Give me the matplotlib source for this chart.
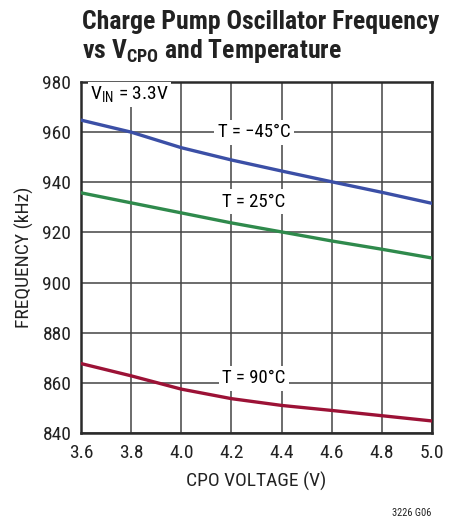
import matplotlib
matplotlib.use('Agg')
import matplotlib.pyplot as plt

plt.rcParams['font.family'] = ['Roboto Condensed', 'DejaVu Sans']
plt.rcParams['mathtext.fontset'] = 'custom'
plt.rcParams['mathtext.rm'] = 'Roboto Condensed'
plt.rcParams['mathtext.bf'] = 'Roboto Condensed:bold'

# CPO voltage (V)
vcpo = [3.6, 3.8, 4.0, 4.2, 4.4, 4.6, 4.8, 5.0]
# frequency (kHz) per temperature
f_m45 = [964.8, 960.0, 953.8, 948.9, 944.5, 940.2, 936.0, 931.6]
f_25 = [935.8, 931.8, 927.8, 923.8, 920.2, 916.6, 913.3, 909.8]
f_90 = [867.7, 862.8, 857.5, 853.7, 851.0, 849.0, 846.9, 844.8]

xticks = [3.6, 3.8, 4.0, 4.2, 4.4, 4.6, 4.8, 5.0]
yticks = [840, 860, 880, 900, 920, 940, 960, 980]

fig = plt.figure(figsize=(4.63, 5.19), dpi=100)
ax = fig.add_axes([0.175, 0.1657, 0.758, 0.6763])

ax.plot(vcpo, f_m45, color='#3b4fa6', lw=2.4, zorder=3)
ax.plot(vcpo, f_25, color='#2f8a4c', lw=2.4, zorder=3)
ax.plot(vcpo, f_90, color='#9c1236', lw=2.4, zorder=3)

ax.set_xlim(3.6, 5.0)
ax.set_ylim(840, 980)
ax.set_xticks(xticks)
ax.set_yticks(yticks)
ax.set_xticklabels(['%.1f' % v for v in xticks])
ax.grid(True, color='#444444', lw=1.1)
ax.tick_params(length=0, labelsize=14, colors='#222222')
ax.tick_params(axis='x', pad=8)
ax.tick_params(axis='y', pad=7)
for s in ax.spines.values():
    s.set_linewidth(1.8)
    s.set_color('#2a2a2a')

ax.set_xlabel('CPO VOLTAGE (V)', fontsize=14, labelpad=7, color='#222222')
ax.set_ylabel('FREQUENCY (kHz)', fontsize=14, labelpad=6, color='#222222')

box = dict(facecolor='white', edgecolor='none', pad=2.5)
ax.text(3.635, 975.0, r'V$_{\mathregular{IN}}$ = 3.3V', fontsize=14, va='center', ha='left',
        bbox=dict(facecolor='white', edgecolor='none', pad=1.5), zorder=4)
ax.text(4.29, 960, 'T = \u221245\u00b0C', fontsize=13.5, va='center', ha='center', bbox=box, zorder=4)
ax.text(4.29, 932.2, 'T = 25\u00b0C', fontsize=13.5, va='center', ha='center', bbox=box, zorder=4)
ax.text(4.29, 861.8, 'T = 90\u00b0C', fontsize=13.5, va='center', ha='center', bbox=box, zorder=4)

fig.text(0.177, 0.944, 'Charge Pump Oscillator Frequency', fontsize=18.5, fontweight='bold', ha='left', va='baseline', color='#222222')
fig.text(0.177, 0.888, r'vs V$_{\mathbf{CPO}}$ and Temperature', fontsize=18.5, fontweight='bold', ha='left', va='baseline', color='#222222')
fig.text(0.931, 0.0067, '3226 G06', fontsize=7.5, ha='right', va='baseline', color='#222222')

fig.savefig('out.png', dpi=100)
